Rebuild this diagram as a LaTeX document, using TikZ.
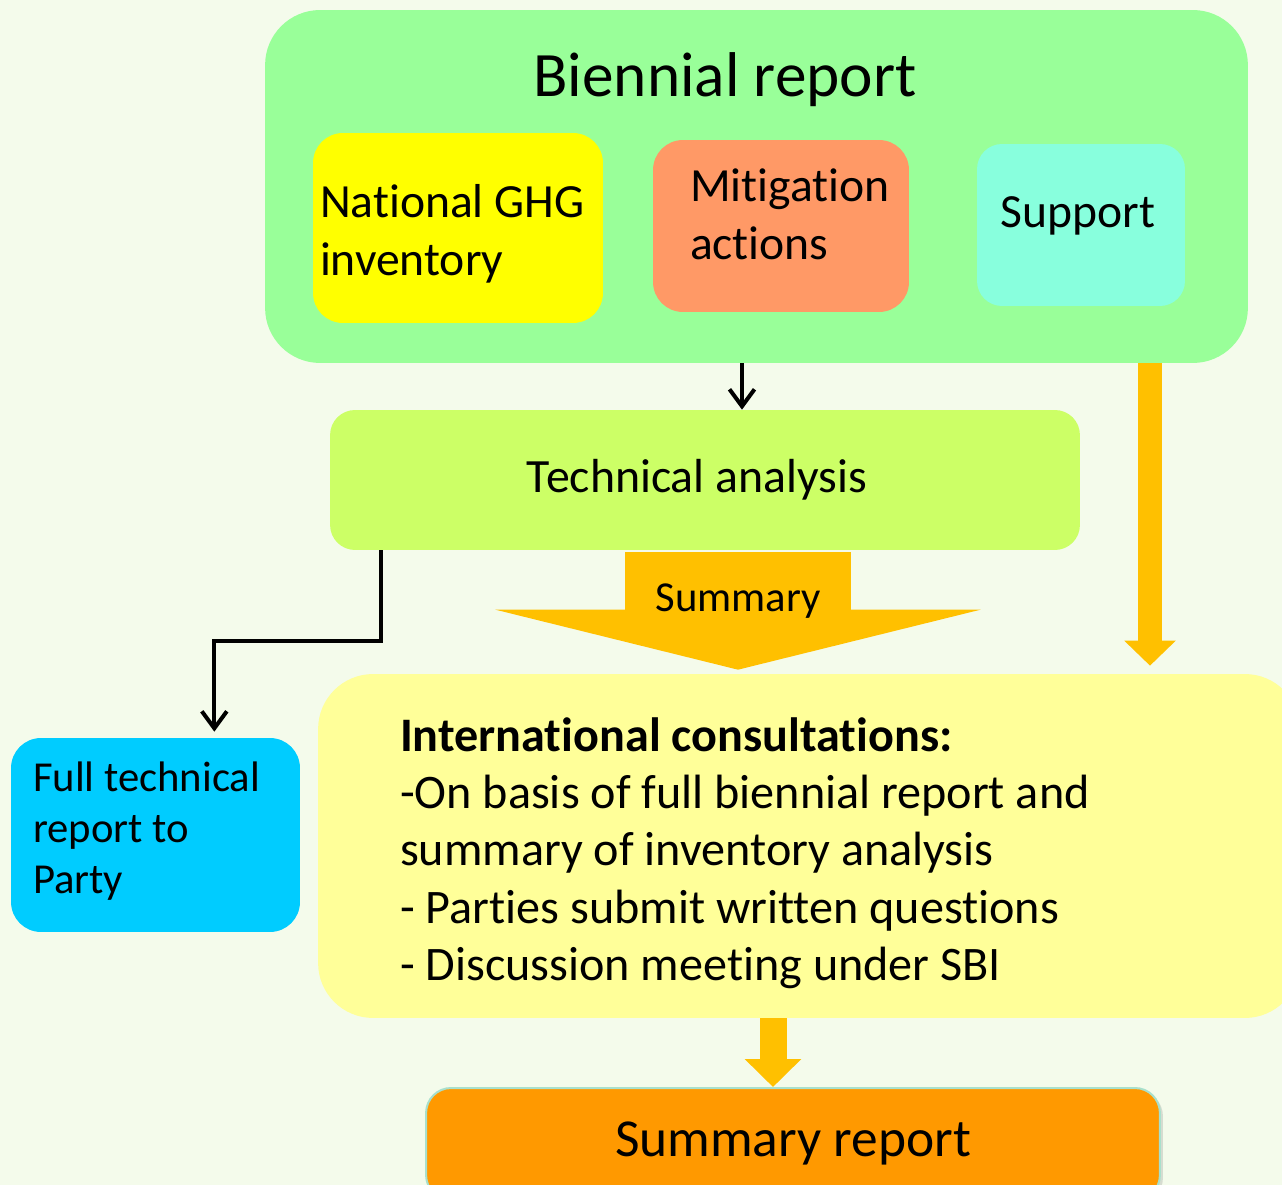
\documentclass[tikz,border=0pt]{standalone}
\usepackage{fontspec}
\setmainfont{Carlito}[Ligatures={NoCommon}]
\usetikzlibrary{positioning,calc,arrows.meta,shadows}
\definecolor{bgcol}{HTML}{F4FBEB}
\definecolor{biencol}{HTML}{99FF99}
\definecolor{ghgcol}{HTML}{FFFF00}
\definecolor{mitcol}{HTML}{FF9966}
\definecolor{supcol}{HTML}{88FFDD}
\definecolor{techcol}{HTML}{CCFF66}
\definecolor{arrcol}{HTML}{FFC000}
\definecolor{fullcol}{HTML}{00CCFF}
\definecolor{conscol}{HTML}{FFFF99}
\definecolor{repcol}{HTML}{FF9900}
\definecolor{repline}{HTML}{A8E0CC}
\tikzset{
  box/.style={rounded corners=0.6cm,inner sep=0pt},
  txt/.style={align=left,inner sep=0pt,font=\fontsize{27.1}{33}\selectfont},
  thinarr/.style={->,line width=0.08cm}
}
\begin{document}
\begin{tikzpicture}[x=0.02cm,y=-0.02cm,>={Straight Barb[length=0.34cm,width=0.5cm]}]
\fill[bgcol] (0,0) rectangle (1282,1185);
\clip (0,0) rectangle (1282,1185);
% biennial report
\node[box,fill=biencol,rounded corners=1.1cm,minimum width=19.66cm,minimum height=7.06cm] (bien) at (756.5,186.5) {};
\node[font=\fontsize{36}{42}\selectfont] (title) at (725,80) {Biennial report};
\node[box,fill=ghgcol,minimum width=5.8cm,minimum height=3.8cm] (ghg) at (458,228) {};
\node[txt,anchor=west] (ghgtxt) at ([xshift=0.14cm,yshift=-0.12cm]ghg.west) {National GHG\\inventory};
\node[box,fill=mitcol,minimum width=5.12cm,minimum height=3.44cm] (mit) at (781,226) {};
\node[txt,anchor=west] (mittxt) at ([xshift=0.74cm,yshift=0.24cm]mit.west) {Mitigation\\actions};
\node[box,fill=supcol,rounded corners=0.5cm,minimum width=4.16cm,minimum height=3.24cm] (sup) at (1081,225) {};
\node[txt] (suptxt) at ([xshift=-0.06cm,yshift=0.18cm]sup.center) {Support};
% analysis
\node[box,fill=techcol,rounded corners=0.5cm,minimum width=15cm,minimum height=2.8cm] (tech) at (705,480) {};
\node[font=\fontsize{27.2}{32}\selectfont] (techtxt) at ([xshift=-0.16cm]tech.center) {Technical analysis};
\node[box,fill=fullcol,minimum width=5.78cm,minimum height=3.88cm] (full) at (155.5,835) {};
\node[txt,anchor=west,font=\fontsize{24.3}{29}\selectfont] (fulltxt) at ([xshift=0.44cm,yshift=0.08cm]full.west) {Full technical\\report to\\Party};
\node[box,fill=conscol,rounded corners=1.1cm,minimum width=19.64cm,minimum height=6.88cm] (cons) at (809,846) {};
\node[txt,anchor=west,font=\fontsize{27.4}{32.6}\selectfont] (constxt) at ([xshift=1.64cm,yshift=-0.14cm]cons.west)
  {\textbf{International consultations:}\\-On basis of full biennial report and\\summary of inventory analysis\\- Parties submit written questions\\- Discussion meeting under SBI};
\node[box,fill=repcol,draw=repline,line width=0.04cm,rounded corners=0.5cm,minimum width=14.68cm,minimum height=2.24cm,
  drop shadow={opacity=0.25,shadow xshift=0.06cm,shadow yshift=-0.06cm}] (rep) at (793,1144) {};
\node[font=\fontsize{30.4}{36}\selectfont] (reptxt) at ([yshift=0.02cm]rep.center) {Summary report};
% arrows
\coordinate (ax) at (742,0);
\coordinate (rx) at (1150,0);
\coordinate (sx) at (738,0);
\coordinate (bx) at (773,0);
\draw[thinarr] (bien.south -| ax) -- (tech.north -| ax);
\draw[arrcol,line width=0.48cm,-{Triangle[length=0.5cm,width=1cm]}] (bien.south -| rx) -- ([yshift=0.16cm]cons.north -| rx);
\draw[arrcol,line width=4.52cm,-{Triangle[length=1.2cm,width=9.68cm]}] ([yshift=-0.04cm]tech.south -| sx) -- ([yshift=0.08cm]cons.north -| sx);
\node[font=\fontsize{24.3}{28}\selectfont] (summ) at (738,601) {Summary};
\draw[thinarr] ([xshift=1.02cm]tech.south west) -- ++(0,91) -| ([xshift=-1.72cm,yshift=0.12cm]full.north east);
\draw[arrcol,line width=0.54cm,-{Triangle[length=0.56cm,width=1.1cm]}] (cons.south -| bx) -- (rep.north -| bx);
\end{tikzpicture}
\end{document}
